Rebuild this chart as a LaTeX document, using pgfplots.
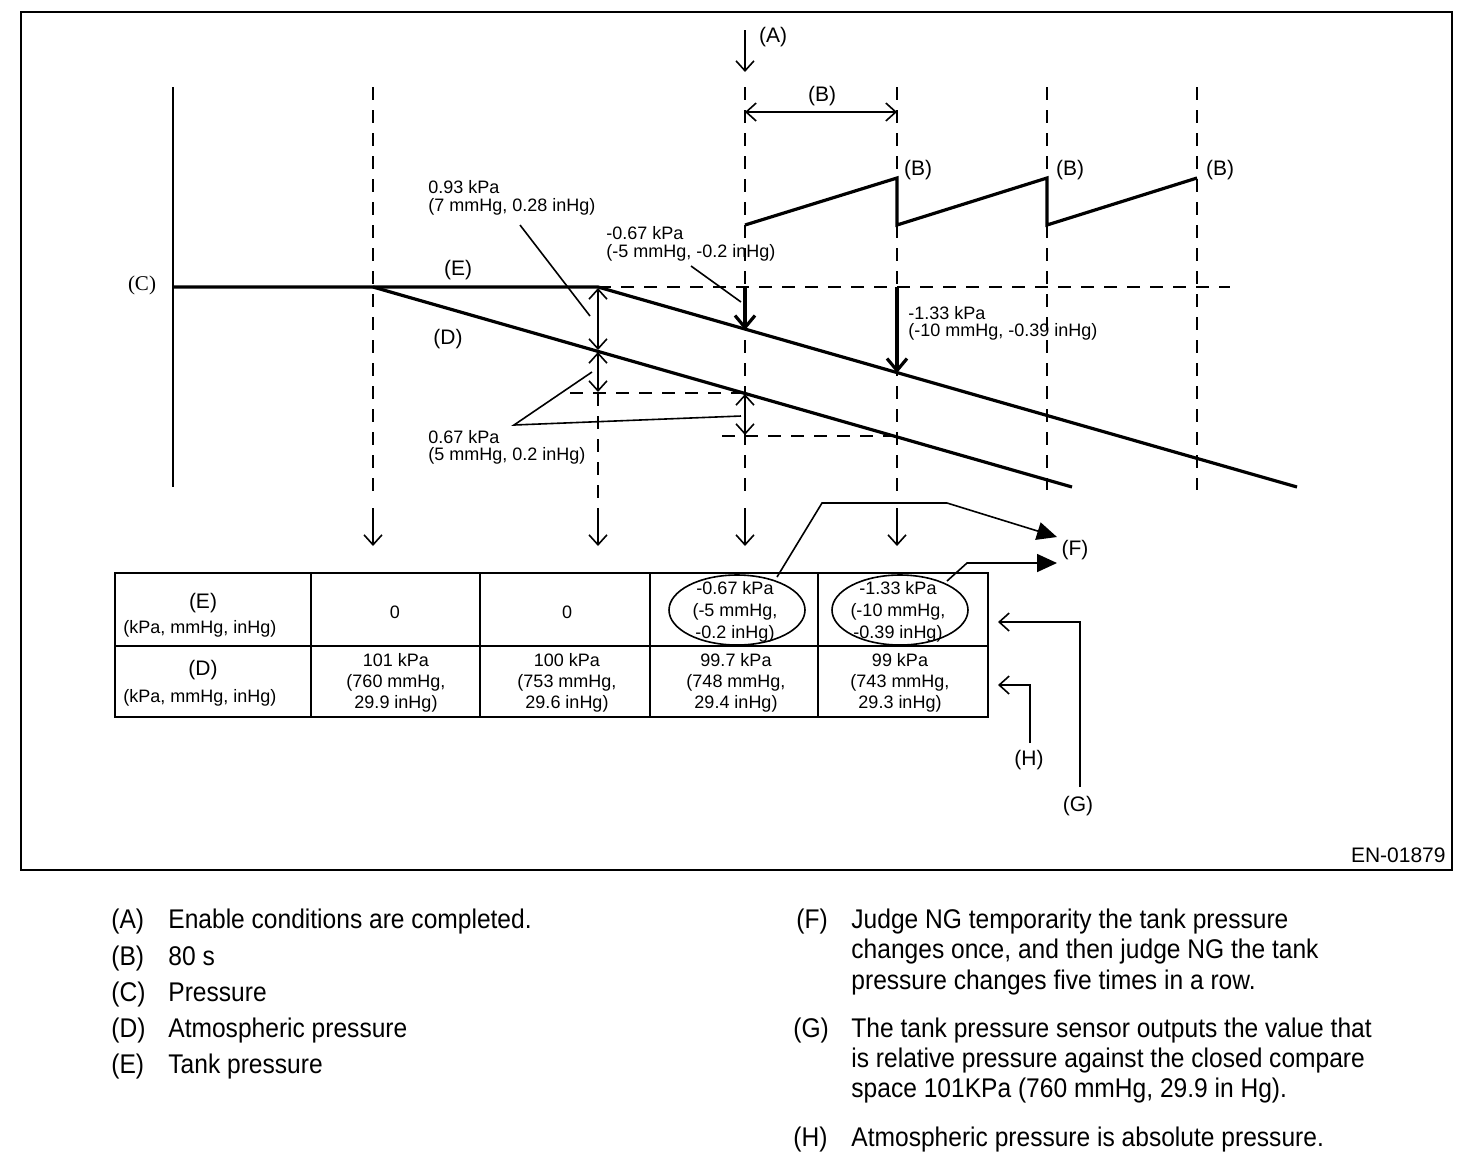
\documentclass[border=0pt]{standalone}
\usepackage{pgfplots}
\pgfplotsset{compat=1.18}
\usepackage{fontspec}
\setmainfont{Liberation Sans}
\newfontfamily\legfont[FakeStretch=0.91]{Liberation Sans}
\newfontfamily\serfont{Liberation Serif}
\usetikzlibrary{arrows.meta}
\newcommand\smf{\fontsize{9}{10}\selectfont}
\newcommand\lbf{\fontsize{10.5}{12}\selectfont}
\newcommand\lgf{\legfont\fontsize{13.5}{16}\selectfont}
\begin{document}
\begin{tikzpicture}[
  thinl/.style={line width=0.8pt},
  dsh/.style={line width=0.9pt, dash pattern=on 6.5pt off 5pt},
  barb/.style={-{Straight Barb[length=5pt,width=9pt]}},
  dbarb/.style={{Straight Barb[length=5pt,width=9pt]}-{Straight Barb[length=5pt,width=9pt]}},
  tx/.style={inner sep=0pt, font=\smf},
  lt/.style={inner sep=0pt, font=\lbf},
  lgt/.style={inner sep=0pt, anchor=base west, font=\lgf},
]
\begin{axis}[
  width=736pt, height=582pt, scale only axis,
  xmin=0, xmax=1472, ymin=0, ymax=1164, y dir=reverse,
  axis lines=none, clip=false,
]
\path (0,0) rectangle (1472,1164);
% frame
\draw[line width=1pt] (21,12) rectangle (1452,870);
% pressure axis
\draw[line width=1pt] (173,87) -- (173,487);
\node[inner sep=0pt, font=\serfont\fontsize{10.5}{12}\selectfont] at (142,285) {(C)};

% dashed guides
\draw[dsh] (373,87) -- (373,500);
\draw[dsh] (598,393) -- (598,500);
\draw[dsh] (745,87) -- (745,500);
\draw[dsh] (897,87) -- (897,500);
\draw[dsh] (1047,87) -- (1047,490);
\draw[dsh] (1197,87) -- (1197,490);
\draw[dsh] (598,287) -- (1230,287);
\draw[dsh] (570,393) -- (745,393);
\draw[dsh] (722,436) -- (897,436);

% data: tank pressure (E), atmospheric pressure (D), sawtooth
\addplot[black, line width=1.6pt, mark=none] coordinates {(173,287) (598,287) (1297,487)};
\addplot[black, line width=1.6pt, mark=none] coordinates {(373,287) (1072,487)};
\addplot[black, line width=1.6pt, mark=none] coordinates {(745,225) (897,178) (897,225) (1047,178) (1047,225) (1197,178)};

% (A) arrow and (B) span
\draw[thinl, barb] (745,30) -- (745,72);
\node[lt] at (773,37) {(A)};
\draw[thinl, dbarb] (745,112) -- (897,112);
\node[lt] at (822,96) {(B)};
\node[lt] at (918,170) {(B)};
\node[lt] at (1070,170) {(B)};
\node[lt] at (1220,170) {(B)};

% thick arrows
\draw[line width=1.6pt, -{Straight Barb[length=6pt,width=10pt]}] (745,287) -- (745,330);
\draw[line width=1.6pt, -{Straight Barb[length=6pt,width=10pt]}] (897,287) -- (897,373);

% double arrows
\draw[thinl, dbarb] (598,288) -- (598,350);
\draw[thinl, dbarb] (598,352) -- (598,392);
\draw[thinl, dbarb] (745,394) -- (745,435);

% leader lines
\draw[thinl] (520,225) -- (590,316);
\draw[thinl] (691,266) -- (741,302);
\draw[thinl] (592,372) -- (514,425) -- (741,416);

% labels
\node[lt] at (458,270) {(E)};
\node[lt] at (448,339) {(D)};
\node[tx, anchor=west] at (428,187) {0.93 kPa};
\node[tx, anchor=west] at (428,207) {(7 mmHg, 0.28 inHg)};
\node[tx, anchor=west] at (606,233) {-0.67 kPa};
\node[tx, anchor=west] at (606,253) {(-5 mmHg, -0.2 inHg)};
\node[tx, anchor=west] at (908,313) {-1.33 kPa};
\node[tx, anchor=west] at (908,332) {(-10 mmHg, -0.39 inHg)};
\node[tx, anchor=west] at (428,437) {0.67 kPa};
\node[tx, anchor=west] at (428,456) {(5 mmHg, 0.2 inHg)};

% arrows down to table
\draw[thinl, barb] (373,508) -- (373,546);
\draw[thinl, barb] (598,508) -- (598,546);
\draw[thinl, barb] (745,508) -- (745,546);
\draw[thinl, barb] (897,508) -- (897,546);

% table
\draw[line width=1pt] (115,573) rectangle (988,717);
\draw[line width=0.8pt] (115,646) -- (988,646);
\draw[line width=0.8pt] (311,573) -- (311,717);
\draw[line width=0.8pt] (480,573) -- (480,717);
\draw[line width=0.8pt] (650,573) -- (650,717);
\draw[line width=0.8pt] (818,573) -- (818,717);
\node[lt] at (203,603) {(E)};
\node[tx] at (200,629) {(kPa, mmHg, inHg)};
\node[lt] at (203,670) {(D)};
\node[tx] at (200,698) {(kPa, mmHg, inHg)};
\node[tx] at (395,612) {0};
\node[tx] at (567,612) {0};
\draw[thinl] (737,610) ellipse [x radius=68, y radius=35];
\draw[thinl] (900,610) ellipse [x radius=68, y radius=35];
\node[tx, align=center] at (735,612) {-0.67 kPa\\[1pt](-5 mmHg,\\[1pt]-0.2 inHg)};
\node[tx, align=center] at (898,612) {-1.33 kPa\\[1pt](-10 mmHg,\\[1pt]-0.39 inHg)};
\node[tx, align=center] at (396,683) {101 kPa\\[0.5pt](760 mmHg,\\[0.5pt]29.9 inHg)};
\node[tx, align=center] at (567,683) {100 kPa\\[0.5pt](753 mmHg,\\[0.5pt]29.6 inHg)};
\node[tx, align=center] at (736,683) {99.7 kPa\\[0.5pt](748 mmHg,\\[0.5pt]29.4 inHg)};
\node[tx, align=center] at (900,683) {99 kPa\\[0.5pt](743 mmHg,\\[0.5pt]29.3 inHg)};

% (F) arrows
\draw[thinl, -{Triangle[length=10pt,width=9pt]}] (777,577) -- (822,503) -- (947,503) -- (1057,537);
\draw[thinl, -{Triangle[length=10pt,width=9pt]}] (947,581) -- (967,563) -- (1057,563);
\node[lt] at (1075,550) {(F)};
% (G), (H)
\draw[thinl, barb] (1080,787) -- (1080,622) -- (998,622);
\node[lt] at (1078,806) {(G)};
\draw[thinl, barb] (1030,743) -- (1030,685) -- (998,685);
\node[lt] at (1029,760) {(H)};

\node[inner sep=0pt, anchor=east, font=\fontsize{10.5}{12}\selectfont] at (1446,855) {EN-01879};

% legend text
\node[lgt] at (111,928) {(A)};
\node[lgt] at (168,928) {Enable conditions are completed.};
\node[lgt] at (111,965) {(B)};
\node[lgt] at (168,965) {80 s};
\node[lgt] at (111,1001) {(C)};
\node[lgt] at (168,1001) {Pressure};
\node[lgt] at (111,1037) {(D)};
\node[lgt] at (168,1037) {Atmospheric pressure};
\node[lgt] at (111,1073) {(E)};
\node[lgt] at (168,1073) {Tank pressure};

\node[lgt] at (796,928) {(F)};
\node[lgt] at (851,928) {Judge NG temporarity the tank pressure};
\node[lgt] at (851,958) {changes once, and then judge NG the tank};
\node[lgt] at (851,989) {pressure changes five times in a row.};
\node[lgt] at (793,1037) {(G)};
\node[lgt] at (851,1037) {The tank pressure sensor outputs the value that};
\node[lgt] at (851,1067) {is relative pressure against the closed compare};
\node[lgt] at (851,1097) {space 101KPa (760 mmHg, 29.9 in Hg).};
\node[lgt] at (793,1146) {(H)};
\node[lgt] at (851,1146) {Atmospheric pressure is absolute pressure.};
\end{axis}
\end{tikzpicture}
\end{document}
